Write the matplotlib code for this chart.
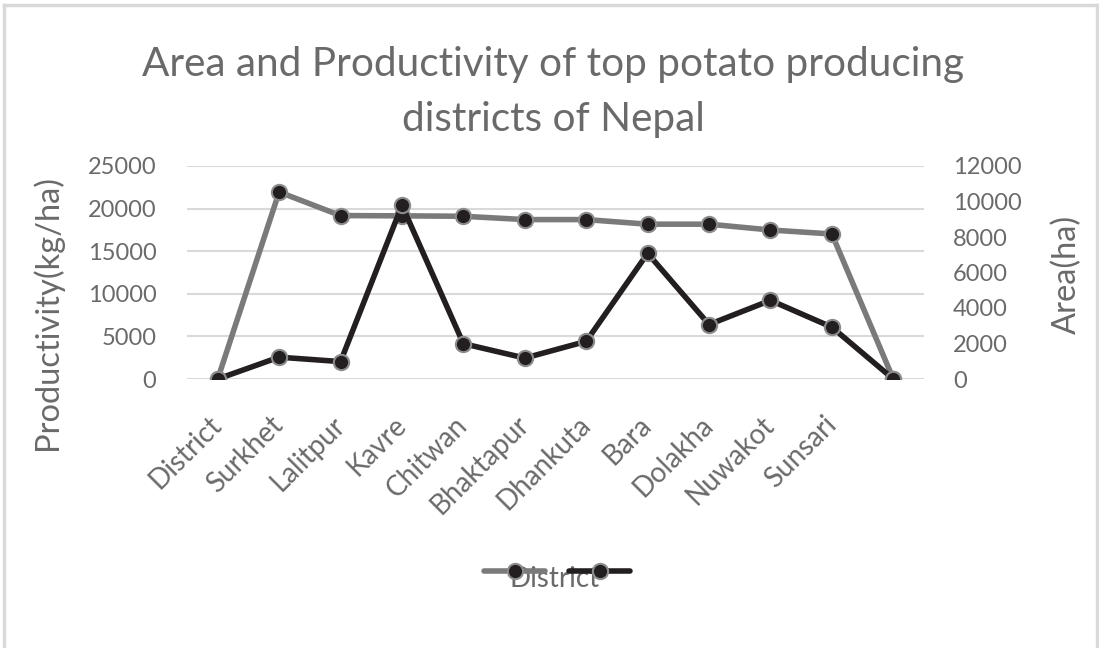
import matplotlib.pyplot as plt
from matplotlib.lines import Line2D

# potato data per district (first and last rows of the sheet come through as zero)
districts = ["District", "Surkhet", "Lalitpur", "Kavre", "Chitwan", "Bhaktapur",
             "Dhankuta", "Bara", "Dolakha", "Nuwakot", "Sunsari", ""]
productivity = [0, 21950, 19180, 19150, 19100, 18710, 18710, 18170, 18170, 17490, 17020, 0]
area = [0, 1230, 980, 9790, 1990, 1180, 2120, 7080, 3070, 4430, 2920, 0]

plt.rcParams['font.family'] = ['Lato', 'DejaVu Sans']
txt = '#6a6a6a'
gray_line = '#7a7a7a'
dark = '#231f20'

W, H = 1099, 648
fig = plt.figure(figsize=(W / 100, H / 100), dpi=100)
ax = fig.add_axes([187 / W, 1 - 379 / H, (924 - 187) / W, (379 - 166) / H])
ax2 = ax.twinx()

x = list(range(len(districts)))
mk = dict(marker='o', markersize=11, markerfacecolor=dark,
          markeredgecolor='#8c8c8c', markeredgewidth=1.5)
l1, = ax.plot(x, productivity, color=gray_line, lw=4, solid_capstyle='round', **mk)
l2, = ax2.plot(x, area, color=dark, lw=4, solid_capstyle='round', **mk)

ax.set_xlim(-0.5, len(districts) - 0.5)
ax.set_ylim(0, 25000)
ax2.set_ylim(0, 12000)
ax.set_yticks(range(0, 25001, 5000))
ax2.set_yticks(range(0, 12001, 2000))
ax.grid(axis='y', color='#d9d9d9', lw=1.5)
ax.set_axisbelow(True)
for a in (ax, ax2):
    for s in a.spines.values():
        s.set_visible(False)

ax.set_xticks(x)
ax.set_xticklabels(districts, rotation=45, ha='right', va='center',
                   rotation_mode='anchor')
ax.tick_params(axis='x', length=0, pad=30, labelsize=20, labelcolor=txt)
ax.tick_params(axis='y', length=0, pad=22, labelsize=17, labelcolor=txt)
ax2.tick_params(axis='y', length=0, pad=21, labelsize=17, labelcolor=txt)

ax.set_ylabel('Productivity(kg/ha)', fontsize=23.5, color=txt, va='center')
ax.yaxis.set_label_coords((47 - 187) / 737, (379 - 312) / 213)
ax2.set_ylabel('Area(ha)', fontsize=23.5, color=txt, va='center')
ax2.yaxis.set_label_coords((1067 - 187) / 737, (379 - 274) / 213)
ax.set_xlabel('District', fontsize=20, color=txt)
ax.xaxis.set_label_coords((555 - 187) / 737, (379 - 566) / 213)

fig.text(553 / W, 1 - 92 / H,
         'Area and Productivity of top potato producing\ndistricts of Nepal',
         ha='center', va='center', fontsize=29.2, color=txt, linespacing=1.62)

fig.legend(handles=[l1, l2], labels=['', ''], loc='center',
           bbox_to_anchor=(557 / W, 1 - 573 / H), ncol=2, frameon=False,
           handlelength=2.6, handletextpad=0, columnspacing=1.0, fontsize=17)

# light chart border
for xs, ys in [((4, 4), (5, H + 5)), ((4, W - 2), (5, 5)), ((W - 2, W - 2), (5, H + 5))]:
    fig.add_artist(Line2D([v / W for v in xs], [1 - v / H for v in ys],
                          color='#d9d9d9', lw=2.5))

fig.savefig('out.png', dpi=100, facecolor='white')
